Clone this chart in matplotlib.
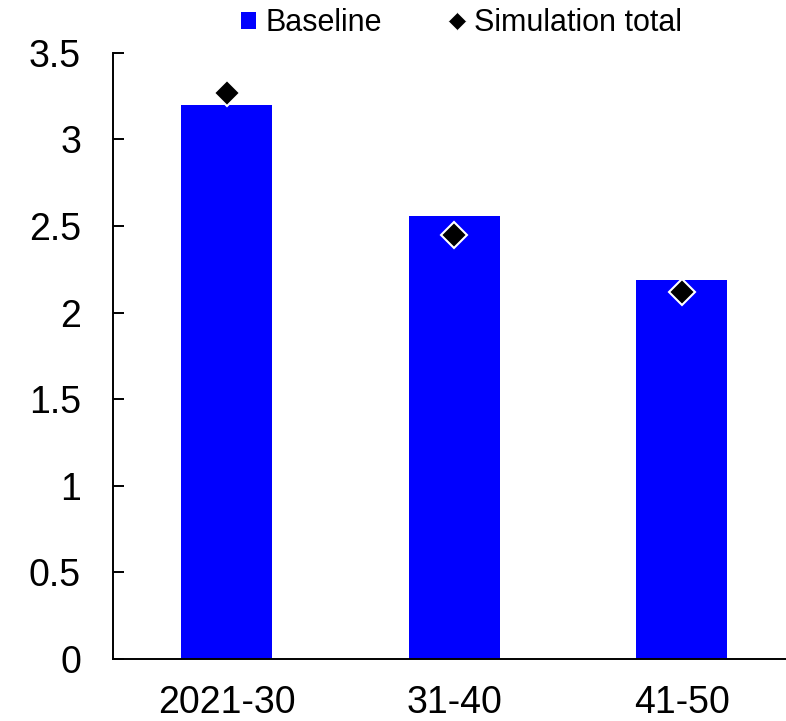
import matplotlib
matplotlib.use("Agg")
import matplotlib.pyplot as plt
from matplotlib.lines import Line2D
from matplotlib.patches import Patch

plt.rcParams['font.family'] = ['Liberation Sans', 'DejaVu Sans']

categories = ["2021-30", "31-40", "41-50"]
baseline = [3.20, 2.56, 2.19]
simulation_total = [3.27, 2.45, 2.12]
yticks = [0, 0.5, 1, 1.5, 2, 2.5, 3, 3.5]
ytick_labels = ["0", "0.5", "1", "1.5", "2", "2.5", "3", "3.5"]

fig = plt.figure(figsize=(7.86, 7.21), dpi=100)
ax = fig.add_axes([0.1438, 0.086, 0.8562, 0.8409])

x = list(range(len(categories)))
ax.bar(x, baseline, width=0.4, color="#0000FF", zorder=2)
ax.plot(x, simulation_total, linestyle="none", marker="D", markersize=13,
        markerfacecolor="black", markeredgecolor="white", markeredgewidth=1.5, zorder=3)

ax.set_xlim(-0.5, 2.459)
ax.set_ylim(0, 3.5)
ax.set_xticks(x)
ax.set_xticklabels(categories)
ax.set_yticks(yticks)
ax.set_yticklabels(ytick_labels)

for s in ["top", "right"]:
    ax.spines[s].set_visible(False)
for s in ["left", "bottom"]:
    ax.spines[s].set_linewidth(1.4)

ax.tick_params(axis="y", direction="in", length=8, width=1.4, labelsize=27, pad=23)
ax.tick_params(axis="x", length=0, labelsize=27, pad=19)

handles = [
    Patch(facecolor="#0000FF", edgecolor="none", label="Baseline"),
    Line2D([], [], linestyle="none", marker="D", markersize=9, markerfacecolor="black",
           markeredgecolor="white", markeredgewidth=0.5, label="Simulation total"),
]
fig.legend(handles=handles, loc="center", bbox_to_anchor=(0.587, 0.968), ncol=2,
           frameon=False, fontsize=22, handlelength=0.5, handleheight=0.5,
           handletextpad=0.3, columnspacing=2.2, borderpad=0)

fig.savefig("out.png", dpi=100, facecolor="white")
